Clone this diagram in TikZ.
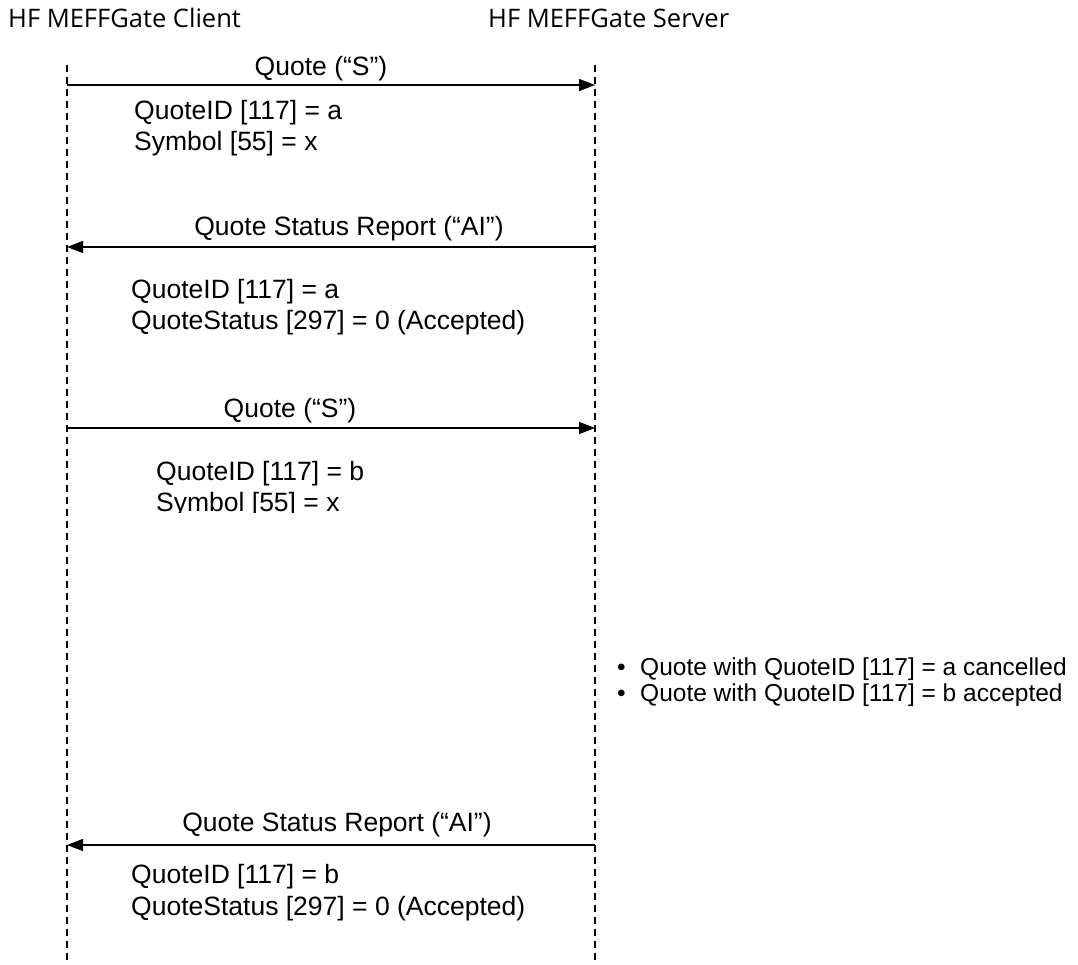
\documentclass[tikz,border=0pt]{standalone}
\usepackage{fontspec}
\setmainfont{Liberation Sans}
\newfontfamily\headfont{Open Sans}
\usetikzlibrary{arrows.meta}
\begin{document}
\begin{tikzpicture}[x=1pt,y=-1pt,
  lifeline/.style={line width=1.2pt,dash pattern=on 7pt off 5pt},
  msg/.style={line width=1.4pt,-{Triangle[length=16pt,width=12pt]}},
  head/.style={anchor=base west,inner sep=0pt,font=\headfont\fontsize{25.5}{30}\selectfont},
  lbl/.style={anchor=base,inner sep=0pt,font=\fontsize{26.5}{31}\selectfont},
  info/.style={anchor=base west,inner sep=0pt,font=\fontsize{26.5}{31}\selectfont},
  note/.style={anchor=base west,inner sep=0pt,font=\fontsize{24.5}{28}\selectfont}]
\useasboundingbox (0,0) rectangle (1078,965);
\node[head] (hc) at (8,28) {HF MEFFGate Client};
\node[head] (hs) at (488,28) {HF MEFFGate Server};
\coordinate (ct) at (67,65); \coordinate (cb) at (67,965);
\coordinate (st) at (595,65); \coordinate (sb) at (595,965);
\draw[lifeline] (ct) -- (cb);
\draw[lifeline] (st) -- (sb);
% message 1
\coordinate (a1) at (67,85); \coordinate (b1) at (595,85);
\draw[msg] (a1) -- (b1);
\node[lbl] (l1) at (321,76) {Quote (“S”)};
\node[info] (t1a) at (134,120) {QuoteID [117] = a};
\node[info] (t1b) at (134,151) {Symbol [55] = x};
% message 2
\coordinate (a2) at (595,247); \coordinate (b2) at (67,247);
\draw[msg] (a2) -- (b2);
\node[lbl] (l2) at (349,236) {Quote Status Report (“AI”)};
\node[info] (t2a) at (131,299) {QuoteID [117] = a};
\node[info] (t2b) at (131,330) {QuoteStatus [297] = 0 (Accepted)};
% message 3
\coordinate (a3) at (67,428); \coordinate (b3) at (595,428);
\draw[msg] (a3) -- (b3);
\node[lbl] (l3) at (290,417) {Quote (“S”)};
\node[info] (t3a) at (156,480) {QuoteID [117] = b};
\begin{scope}
\clip (100,485) rectangle (560,512);
\node[info] (t3b) at (156,511) {Symbol [55] = x};
\end{scope}
% server note
\node[note] (n1) at (617,675) {\textbullet};
\node[note] (n1t) at (640,675) {Quote with QuoteID [117] = a cancelled};
\node[note] (n2) at (617,701) {\textbullet};
\node[note] (n2t) at (640,701) {Quote with QuoteID [117] = b accepted};
% message 4
\coordinate (a4) at (595,845); \coordinate (b4) at (67,845);
\draw[msg] (a4) -- (b4);
\node[lbl] (l4) at (337,831) {Quote Status Report (“AI”)};
\node[info] (t4a) at (131,883) {QuoteID [117] = b};
\node[info] (t4b) at (131,915) {QuoteStatus [297] = 0 (Accepted)};
\end{tikzpicture}
\end{document}
